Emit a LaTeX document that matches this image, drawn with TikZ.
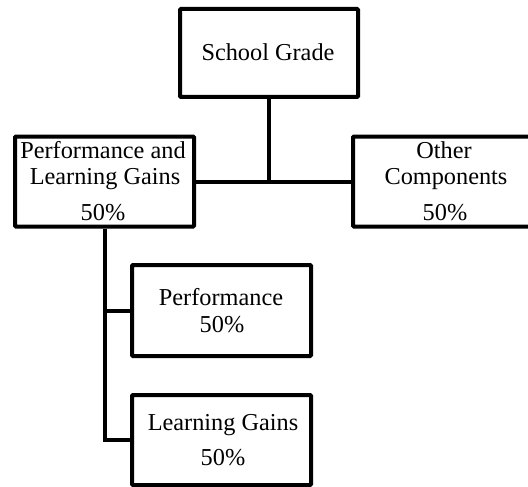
\documentclass[tikz,border=0pt]{standalone}
\usepackage{fontspec}
\setmainfont{Liberation Serif}
\begin{document}
\begin{tikzpicture}[x=1pt,y=-1pt,
  box/.style={draw=black,line width=4pt,rounded corners=1pt,inner sep=0pt,fill=white},
  txt/.style={anchor=base,inner sep=0pt,font=\fontsize{24.3}{28}\selectfont},
  conn/.style={draw=black,line width=4pt}]
\clip (0,0) rectangle (528,487);
\fill[white] (0,0) rectangle (528,487);
% boxes
\node[box,minimum width=178pt,minimum height=88pt] (sg) at (269,53) {};
\node[box,minimum width=179pt,minimum height=90pt] (plg) at (104.5,181.5) {};
\node[box,minimum width=184pt,minimum height=90pt] (oc) at (445,181.5) {};
\node[box,minimum width=179pt,minimum height=91pt] (pf) at (221.5,310.5) {};
\node[box,minimum width=179pt,minimum height=90pt] (lg) at (221.5,440) {};
% connectors
\draw[conn] (sg.south) -- (sg.south |- oc.west);
\draw[conn] (plg.east) -- (oc.west);
\draw[conn] (plg.south) |- (lg.west);
\draw[conn] (plg.south |- pf.west) -- (pf.west);
% texts
\node[txt] (t1) at (268,61) {School Grade};
\node[txt] (t2) at (103,158) {Performance and};
\node[txt] (t3) at (105,184) {Learning Gains};
\node[txt] (t4) at (103,220) {50\%};
\node[txt] (t5) at (444,158) {Other};
\node[txt] (t6) at (446,184) {Components};
\node[txt] (t7) at (445,220) {50\%};
\node[txt] (t8) at (221,305) {Performance};
\node[txt] (t9) at (222,332) {50\%};
\node[txt] (t10) at (223,430) {Learning Gains};
\node[txt] (t11) at (223,465) {50\%};
\end{tikzpicture}
\end{document}
